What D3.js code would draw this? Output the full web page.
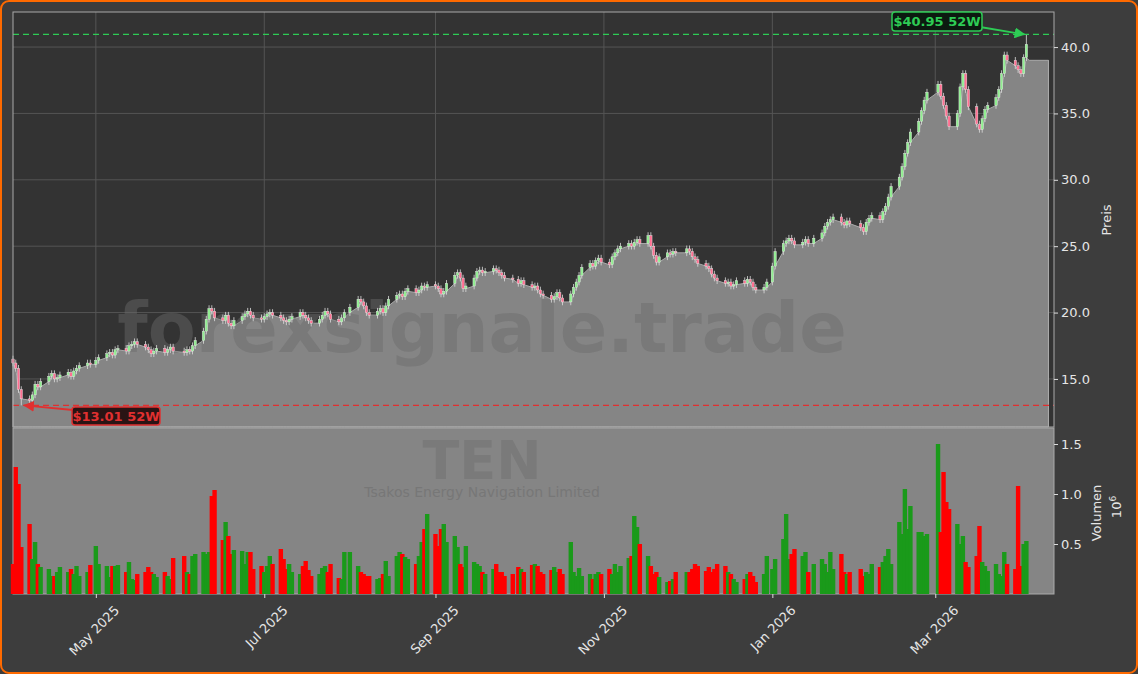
<!DOCTYPE html>
<html><head><meta charset="utf-8">
<script src="https://cdn.jsdelivr.net/npm/d3@7"></script>
<style>body{margin:0;background:#3d3d3d;}svg{display:block;font-family:"DejaVu Sans",sans-serif;}</style>
</head><body><svg id="c" width="1138" height="674"></svg>
<script>
const months = ["2025-04","2025-05","2025-06","2025-07","2025-08","2025-09","2025-10","2025-11","2025-12","2026-01","2026-02","2026-03","2026-04"];
const closesByMonth = [
[16.2,15.8,14.2,13.5,13.4,13.8,14.6,14.4,14.8,15.2,15.4,15.0,15.1,15.3,15.5,15.2,15.6,15.8,16.0,16.2,16.1],
[16.4,16.6,16.9,17.0,16.8,17.2,17.3,17.1,17.5,17.6,17.8,17.6,17.4,17.2,16.9,17.1,17.3,17.0,17.2,17.4,17.1],
[17.0,17.2,17.1,17.5,17.9,18.6,19.5,20.3,20.1,19.6,19.4,19.8,19.2,19.0,19.4,19.7,19.9,20.1,19.8,19.6,19.5],
[19.7,19.9,20.0,19.8,19.6,19.4,19.3,19.5,19.7,20.0,19.8,19.6,19.4,19.2,19.5,19.8,20.1,19.9,19.5,19.3,19.6,20.0],
[20.4,21.0,20.8,20.5,20.0,19.8,20.1,20.3,20.0,20.5,21.0,21.3,21.4,21.2,21.6,21.8,21.5,21.7,22.0,21.9,22.1],
[22.0,21.8,21.4,21.6,22.2,22.8,23.0,22.6,21.8,22.0,22.6,23.1,23.2,23.0,23.1,23.3,23.2,23.0,22.8,22.6,22.5],
[22.2,22.4,22.1,21.9,22.0,21.7,21.4,21.3,21.0,21.2,21.5,21.1,20.8,21.4,21.9,22.3,22.8,23.4,23.7,23.5,23.9,24.1,23.8],
[23.6,24.2,24.5,24.8,25.0,25.2,25.0,25.3,25.5,25.2,25.8,25.0,24.3,23.8,24.2,24.5,24.4,24.6,24.5],
[24.8,24.6,24.2,24.0,23.7,23.5,23.3,22.9,22.6,22.4,22.2,22.3,22.0,22.1,22.4,22.2,22.5,22.3,21.9,21.7,21.9,22.3],
[23.5,24.6,25.2,25.4,25.6,25.4,25.1,25.3,25.5,25.2,25.6,26.0,26.5,26.8,27.0,27.2,26.8,26.6,26.9,26.7],
[26.4,26.1,26.8,27.1,27.3,27.0,27.6,28.0,28.7,29.5,30.2,31.0,32.0,32.8,33.6,34.4,35.2,36.0,36.6],
[37.2,36.3,35.6,34.8,34.0,35.0,37.0,38.0,36.8,35.5,34.2,33.8,34.6,35.3,35.6,36.2,36.8,38.0,39.4,39.0,38.6,38.3],
[38.0,39.2,40.2]];
const volumesByMonth = [
[0.3,1.27,1.1,0.47,0.7,0.35,0.52,0.3,0.27,0.25,0.18,0.18,0.22,0.27,0.22,0.25,0.2,0.28,0.18,0.22,0.29],
[0.48,0.3,0.28,0.17,0.28,0.28,0.29,0.22,0.32,0.15,0.14,0.2,0.22,0.27,0.22,0.2,0.17,0.22,0.18,0.15,0.36],
[0.38,0.22,0.2,0.38,0.4,0.42,0.4,0.42,0.98,1.04,0.54,0.72,0.58,0.4,0.44,0.43,0.3,0.42,0.42,0.25,0.28],
[0.22,0.28,0.38,0.3,0.45,0.35,0.25,0.3,0.22,0.2,0.28,0.33,0.24,0.18,0.2,0.26,0.28,0.22,0.3,0.16,0.15,0.42],
[0.42,0.28,0.22,0.2,0.18,0.18,0.15,0.16,0.2,0.33,0.18,0.38,0.42,0.4,0.37,0.35,0.3,0.38,0.52,0.65,0.8],
[0.6,0.48,0.65,0.7,0.52,0.58,0.47,0.3,0.27,0.48,0.32,0.3,0.28,0.22,0.2,0.25,0.3,0.22,0.22,0.18,0.2],
[0.27,0.25,0.22,0.29,0.3,0.28,0.22,0.2,0.24,0.27,0.22,0.25,0.2,0.52,0.22,0.18,0.26,0.18,0.2,0.15,0.2,0.22,0.2],
[0.25,0.2,0.3,0.22,0.28,0.36,0.38,0.78,0.67,0.5,0.38,0.28,0.2,0.22,0.17,0.12,0.13,0.15,0.22],
[0.22,0.22,0.25,0.3,0.28,0.23,0.27,0.22,0.25,0.3,0.28,0.22,0.2,0.15,0.12,0.15,0.2,0.22,0.18,0.12,0.2,0.38],
[0.25,0.35,0.55,0.8,0.35,0.4,0.45,0.38,0.42,0.22,0.3,0.35,0.3,0.22,0.42,0.25,0.4,0.22,0.2,0.22],
[0.25,0.18,0.22,0.2,0.3,0.27,0.32,0.38,0.45,0.3,0.72,0.6,1.05,0.65,0.88,0.62,0.62,0.58,0.6],
[1.5,0.62,1.22,0.92,0.85,0.7,0.5,0.58,0.32,0.27,0.38,0.68,0.32,0.28,0.23,0.3,0.2,0.18,0.42,0.3,0.25,1.08],
[0.28,0.5,0.53]];
const priceTicks = [15,20,25,30,35,40];
const volTicks = [0.5,1.0,1.5];
const monthTicks = ["2025-05-01","2025-07-01","2025-09-01","2025-11-01","2026-01-01","2026-03-01"];
const high52 = 40.95, low52 = 13.01;
const title = "TEN", subtitle = "Tsakos Energy Navigation Limited", watermark = "forexsignale.trade";

const data = [];
let prev = 16.5;
months.forEach((m,mi)=>{
  const [yy,mm] = m.split("-").map(Number);
  const wd = [];
  const last = mi===months.length-1 ? 3 : new Date(yy,mm,0).getDate();
  for (let dd=1; dd<=last; dd++){ const t=new Date(yy,mm-1,dd); if(t.getDay()!==0&&t.getDay()!==6) wd.push(t); }
  const n = closesByMonth[mi].length;
  closesByMonth[mi].forEach((c,i)=>{
    const date = wd[Math.min(wd.length-1, Math.floor(i*wd.length/n))];
    data.push({date,o:prev,c,h:Math.max(prev,c)+0.25,l:Math.min(prev,c)-0.25,v:volumesByMonth[mi][i],up:c>=prev});
    prev = c;
  });
});
data[data.length-1].h = high52; data[3].l = low52;

const svg = d3.select("#c");
const L=13,R=1054,PT=12,PB=427,VT=428,VB=594;
svg.append("rect").attr("x",1).attr("y",1).attr("width",1136).attr("height",672).attr("rx",8).attr("fill","#3d3d3d").attr("stroke","#ff6a00").attr("stroke-width",2);
const x = d3.scaleTime().domain([new Date(2025,3,1),new Date(2026,3,13)]).range([L,R]);
const y = d3.scaleLinear().domain([11.38,42.64]).range([PB,PT]);
const yv = d3.scaleLinear().domain([0,1.66]).range([VB,VT]);

svg.append("rect").attr("x",L).attr("y",PT).attr("width",R-L).attr("height",PB-PT).attr("fill","#333");
svg.append("rect").attr("x",L).attr("y",VT).attr("width",R-L).attr("height",VB-VT).attr("fill","#858585");
const g=svg.append("g");
priceTicks.forEach(t=>g.append("line").attr("x1",L).attr("x2",R).attr("y1",y(t)).attr("y2",y(t)).attr("stroke","#555"));
monthTicks.forEach(t=>g.append("line").attr("x1",x(new Date(t))).attr("x2",x(new Date(t))).attr("y1",PT).attr("y2",PB).attr("stroke","#555"));
const areaData = data.map(e=>({date:e.date,v:Math.min(e.o,e.c)}));
areaData.push({date:new Date(2026,3,4),v:39.0},{date:new Date(2026,3,11),v:39.0});
svg.append("path").datum(areaData).attr("fill","#858585").attr("stroke","#aaa").attr("stroke-width",1)
 .attr("d",d3.area().x(e=>x(e.date)).y0(PB).y1(e=>y(e.v)));
svg.append("line").attr("x1",x(new Date(2026,3,11))).attr("x2",x(new Date(2026,3,11))).attr("y1",y(39)).attr("y2",PB).attr("stroke","#aaa");
svg.append("text").attr("x",482).attr("y",352).attr("text-anchor","middle").attr("font-size",70).attr("font-weight","bold").attr("fill","#6a6a6a").attr("fill-opacity",0.45).text(watermark);
const bw=2.4;
const cg=svg.append("g");
data.forEach(e=>{const cx=x(e.date), col=e.up?"#90ee90":"#ff6f91";
 cg.append("line").attr("x1",cx).attr("x2",cx).attr("y1",y(e.h)).attr("y2",y(e.l)).attr("stroke","#ddd").attr("stroke-width",0.8);
 cg.append("rect").attr("x",cx-bw/2).attr("width",bw).attr("y",y(Math.max(e.o,e.c))).attr("height",Math.max(1,Math.abs(y(e.o)-y(e.c)))).attr("fill",col).attr("stroke","#eee").attr("stroke-width",0.4);});
svg.append("line").attr("x1",L).attr("x2",R).attr("y1",y(high52)).attr("y2",y(high52)).attr("stroke","#2ecc55").attr("stroke-width",1.3).attr("stroke-dasharray","6,4");
svg.append("line").attr("x1",L).attr("x2",R).attr("y1",y(low52)).attr("y2",y(low52)).attr("stroke","#e03030").attr("stroke-width",1.3).attr("stroke-dasharray","6,4");
svg.append("rect").attr("x",L).attr("y",PT).attr("width",R-L).attr("height",PB-PT).attr("fill","none").attr("stroke","#aaa");
svg.append("rect").attr("x",L).attr("y",VT).attr("width",R-L).attr("height",VB-VT).attr("fill","none").attr("stroke","#aaa");
svg.append("text").attr("x",482).attr("y",479).attr("text-anchor","middle").attr("font-size",54).attr("font-weight","bold").attr("fill","#7a7a7a").text(title);
svg.append("text").attr("x",482).attr("y",497).attr("text-anchor","middle").attr("font-size",14).attr("fill","#777").text(subtitle);
data.forEach(e=>{svg.append("rect").attr("x",x(e.date)-2.2).attr("width",4.4).attr("y",yv(e.v)).attr("height",VB-yv(e.v)).attr("fill",e.up?"#1a9a1a":"#ff0000");});
const ay=d3.axisRight(y).tickValues(priceTicks).tickFormat(d3.format(".1f")).tickSize(4);
const ga=svg.append("g").attr("transform",`translate(${R},0)`).call(ay);
const av=d3.axisRight(yv).tickValues(volTicks).tickFormat(d3.format(".1f")).tickSize(4);
const gv=svg.append("g").attr("transform",`translate(${R},0)`).call(av);
const ax=d3.axisBottom(x).tickValues(monthTicks.map(t=>new Date(t))).tickFormat(d3.timeFormat("%b %Y")).tickSize(4);
const gx=svg.append("g").attr("transform",`translate(0,${VB})`).call(ax);
gx.selectAll("text").attr("text-anchor","end").attr("transform","translate(16,4) rotate(-45)").attr("dx","-0.3em").attr("dy","0.6em");
[ga,gv,gx].forEach(a=>{a.select(".domain").remove();a.selectAll("line").attr("stroke","#ddd");a.selectAll("text").attr("fill","#e6e6e6").attr("font-size",13).attr("font-family","DejaVu Sans");});
svg.append("text").attr("transform","translate(1111,220) rotate(-90)").attr("text-anchor","middle").attr("fill","#e6e6e6").attr("font-size",13).text("Preis");
svg.append("text").attr("transform","translate(1101,513) rotate(-90)").attr("text-anchor","middle").attr("fill","#e6e6e6").attr("font-size",13).text("Volumen");
const t6=svg.append("text").attr("transform","translate(1121,507) rotate(-90)").attr("text-anchor","middle").attr("fill","#e6e6e6").attr("font-size",13);
t6.append("tspan").text("10");t6.append("tspan").attr("dy",-5).attr("font-size",9).text("6");
const defs=svg.append("defs");
[["ag","#2ecc55"],["ar","#e03030"]].forEach(([id,c])=>defs.append("marker").attr("id",id).attr("viewBox","0 0 10 10").attr("refX",9).attr("refY",5).attr("markerWidth",6).attr("markerHeight",6).attr("orient","auto").append("path").attr("d","M0,0L10,5L0,10z").attr("fill",c));
const hx=x(data[data.length-1].date);
svg.append("line").attr("x1",980).attr("y1",27).attr("x2",hx-2).attr("y2",y(high52)).attr("stroke","#2ecc55").attr("stroke-width",1.8).attr("marker-end","url(#ag)");
svg.append("rect").attr("x",892).attr("y",12).attr("width",90).attr("height",19).attr("rx",3).attr("fill","#0c1a10").attr("stroke","#2ecc55").attr("stroke-width",1.5);
svg.append("text").attr("x",937).attr("y",26).attr("text-anchor","middle").attr("font-size",13).attr("font-weight","bold").attr("fill","#2ecc55").text("$"+high52.toFixed(2)+" 52W");
svg.append("line").attr("x1",73).attr("y1",410).attr("x2",x(data[3].date)+3).attr("y2",y(low52)).attr("stroke","#e03030").attr("stroke-width",1.8).attr("marker-end","url(#ar)");
svg.append("rect").attr("x",72).attr("y",407).attr("width",88).attr("height",18).attr("rx",3).attr("fill","#2a1414").attr("stroke","#e03030").attr("stroke-width",1.5);
svg.append("text").attr("x",116).attr("y",421).attr("text-anchor","middle").attr("font-size",13).attr("font-weight","bold").attr("fill","#e03030").text("$"+low52.toFixed(2)+" 52W");
</script></body></html>
